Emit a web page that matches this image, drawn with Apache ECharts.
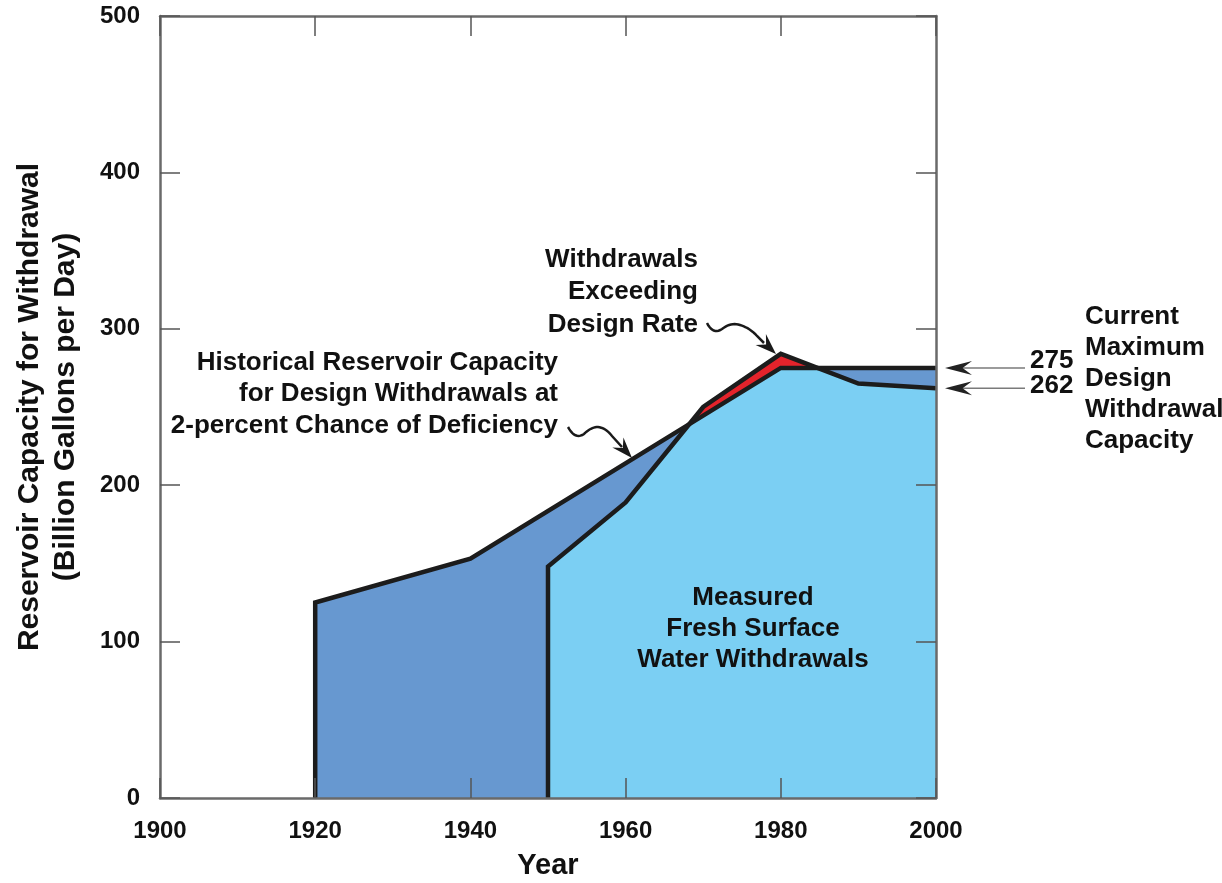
<!DOCTYPE html>
<html>
<head>
<meta charset="utf-8">
<script src="https://cdn.jsdelivr.net/npm/echarts@6/dist/echarts.min.js"></script>
<style>
  html, body { margin: 0; padding: 0; background: #ffffff; }
  #chart { width: 1222px; height: 883px; }
</style>
</head>
<body>
<div id="chart"></div>
<script>
// ---- Data ----
const xTickYears = [1900, 1920, 1940, 1960, 1980, 2000];
const yTickValues = [0, 100, 200, 300, 400, 500];

// Historical reservoir capacity for design withdrawals (2-percent chance of deficiency)
const capacityYears  = [1920, 1920, 1940, 1980, 2000];
const capacityValues = [0,    125,  153,  275,  275];

// Measured fresh surface water withdrawals
const withdrawalYears  = [1950, 1950, 1960, 1970, 1980, 1990, 2000];
const withdrawalValues = [0,    148,  189,  250,  284,  265,  262];

// Withdrawals exceeding design rate (region between the two curves)
const excessTopYears   = [1968.2, 1970, 1980, 1984.7];
const excessTopValues  = [239,    250,  284,  275];
const excessBaseYears  = [1980, 1970];
const excessBaseValues = [275,  244.5];

// Current maximum design withdrawal capacity labels
const currentLabels = [275, 262];

const FONT = '"Liberation Sans", Arial, Helvetica, sans-serif';
const DARK_BLUE = '#6798d0';
const LIGHT_BLUE = '#7bcff3';
const RED = '#e4232b';
const LINE = '#1c1c1c';
const AXIS = '#6a6a6a';

const pairs = (xs, ys) => xs.map((x, i) => [x, ys[i]]);

const chart = echarts.init(document.getElementById('chart'), null, { renderer: 'canvas' });

const tickCommon = {
  inside: true, length: 20,
  lineStyle: { color: '#555555', width: 1.5 }
};
const lineCommon = { show: true, onZero: false, lineStyle: { color: AXIS, width: 2.5 } };
const labelFmt = v => String(v);

const option = {
  animation: false,
  backgroundColor: '#ffffff',
  grid: { left: 160, right: 286, top: 16, bottom: 85, containLabel: false, outerBoundsMode: 'none' },
  xAxis: [
    {
      type: 'value', position: 'bottom',
      min: xTickYears[0], max: xTickYears[xTickYears.length - 1], interval: 20,
      axisLine: lineCommon, axisTick: tickCommon, splitLine: { show: false },
      axisLabel: { margin: 21, color: '#111', fontFamily: FONT, fontWeight: 'bold', fontSize: 24, formatter: labelFmt },
      name: 'Year', nameLocation: 'middle', nameGap: 53,
      nameTextStyle: { color: '#111', fontFamily: FONT, fontWeight: 'bold', fontSize: 29 },
      z: 10
    },
    {
      type: 'value', position: 'top',
      min: xTickYears[0], max: xTickYears[xTickYears.length - 1], interval: 20,
      axisLine: lineCommon, axisTick: tickCommon, splitLine: { show: false },
      axisLabel: { show: false }, z: 10
    }
  ],
  yAxis: [
    {
      type: 'value', position: 'left',
      min: yTickValues[0], max: yTickValues[yTickValues.length - 1], interval: 100,
      axisLine: lineCommon, axisTick: tickCommon, splitLine: { show: false },
      axisLabel: { margin: 20, color: '#111', fontFamily: FONT, fontWeight: 'bold', fontSize: 24, formatter: labelFmt },
      name: 'Reservoir Capacity for Withdrawal\n(Billion Gallons per Day)',
      nameLocation: 'middle', nameGap: 76, nameRotate: 90,
      nameTextStyle: { color: '#111', fontFamily: FONT, fontWeight: 'bold', fontSize: 30, lineHeight: 36 },
      z: 10
    },
    {
      type: 'value', position: 'right',
      min: yTickValues[0], max: yTickValues[yTickValues.length - 1], interval: 100,
      axisLine: lineCommon, axisTick: tickCommon, splitLine: { show: false },
      axisLabel: { show: false }, z: 10
    }
  ],
  series: [
    {
      name: 'Capacity area', type: 'line', z: 1,
      data: pairs(capacityYears, capacityValues),
      symbol: 'none', lineStyle: { width: 0 },
      areaStyle: { color: DARK_BLUE, opacity: 1 }
    },
    {
      name: 'Withdrawal area', type: 'line', z: 2,
      data: pairs(withdrawalYears, withdrawalValues),
      symbol: 'none', lineStyle: { width: 0 },
      areaStyle: { color: LIGHT_BLUE, opacity: 1 }
    },
    {
      name: 'Excess', type: 'custom', z: 3,
      data: [[0]],
      renderItem: function (params, api) {
        const pts = [];
        excessTopYears.forEach((x, i) => pts.push(api.coord([x, excessTopValues[i]])));
        excessBaseYears.forEach((x, i) => pts.push(api.coord([x, excessBaseValues[i]])));
        return { type: 'polygon', shape: { points: pts }, style: { fill: RED } };
      }
    },
    {
      name: 'Capacity line', type: 'line', z: 4,
      data: pairs(capacityYears, capacityValues),
      symbol: 'none',
      lineStyle: { width: 4.5, color: LINE, join: 'miter', cap: 'butt' }
    },
    {
      name: 'Withdrawal line', type: 'line', z: 5,
      data: pairs(withdrawalYears, withdrawalValues),
      symbol: 'none',
      lineStyle: { width: 4.5, color: LINE, join: 'miter', cap: 'butt' }
    }
  ]
};
chart.setOption(option);

// ---- Annotations ----
function arrowHead(tip, from, len, half, color) {
  const dx = tip[0] - from[0], dy = tip[1] - from[1];
  const d = Math.sqrt(dx * dx + dy * dy);
  const ux = dx / d, uy = dy / d;
  const nx = -uy, ny = ux;
  const bx = tip[0] - ux * len, by = tip[1] - uy * len;
  const notch = [tip[0] - ux * len * 0.65, tip[1] - uy * len * 0.65];
  return {
    type: 'polygon', z: 100,
    shape: { points: [tip, [bx + nx * half, by + ny * half], notch, [bx - nx * half, by - ny * half]] },
    style: { fill: color }
  };
}
function txt(text, x, y, align, lh, size) {
  return {
    type: 'text', x: x, y: y, z: 100,
    style: {
      text: text, fill: '#111', font: 'bold ' + (size || 26) + 'px ' + FONT,
      textAlign: align, textVerticalAlign: 'middle', lineHeight: lh || 31.5
    }
  };
}
// sample a chain of quadratic bezier segments: [start, [ctrl, end], [ctrl, end], ...]
function quadChain(start, segs) {
  const pts = [start];
  let p0 = start;
  segs.forEach(function (s) {
    const c = s[0], p1 = s[1];
    for (let t = 1; t <= 10; t++) {
      const u = t / 10, m = 1 - u;
      pts.push([m * m * p0[0] + 2 * m * u * c[0] + u * u * p1[0],
                m * m * p0[1] + 2 * m * u * c[1] + u * u * p1[1]]);
    }
    p0 = p1;
  });
  return pts;
}

const graphics = [];
graphics.push(txt('Historical Reservoir Capacity\nfor Design Withdrawals at\n2-percent Chance of Deficiency', 558, 394, 'right', 31.5));
graphics.push(txt('Withdrawals\nExceeding\nDesign Rate', 698, 292, 'right', 32.5));
graphics.push(txt('Measured\nFresh Surface\nWater Withdrawals', 753, 629, 'center', 31));
graphics.push(txt('Current\nMaximum\nDesign\nWithdrawal\nCapacity', 1085, 379, 'left', 31));

// squiggle arrows
const sq1 = quadChain([568, 427], [[[575, 440], [584, 434]], [[591, 427], [598, 427]], [[606, 428], [612, 436]]]);
sq1.push([622, 447]);
graphics.push({
  type: 'polyline', z: 100, shape: { points: sq1 },
  style: { stroke: '#1a1a1a', lineWidth: 2.5, fill: null }
});
graphics.push(arrowHead([632, 458], [612, 436], 21, 7.5, '#1a1a1a'));

const sq2 = quadChain([707, 323], [[[713, 335], [722, 329]], [[731, 322], [740, 325]], [[750, 328], [757, 336]]]);
sq2.push([764, 343]);
graphics.push({
  type: 'polyline', z: 100, shape: { points: sq2 },
  style: { stroke: '#1a1a1a', lineWidth: 2.5, fill: null }
});
graphics.push(arrowHead([776, 354], [757, 336], 21, 7.5, '#1a1a1a'));

// right side value arrows
const rightEdge = chart.convertToPixel({ xAxisIndex: 0 }, xTickYears[xTickYears.length - 1]);
currentLabels.forEach(function (v) {
  const y = chart.convertToPixel({ yAxisIndex: 0 }, v);
  graphics.push({
    type: 'line', z: 100,
    shape: { x1: rightEdge + 22, y1: y, x2: 1025, y2: y },
    style: { stroke: '#7a7a7a', lineWidth: 1.5 }
  });
  graphics.push(arrowHead([rightEdge + 9, y], [1025, y], 27, 7, '#222'));
});
const y275 = chart.convertToPixel({ yAxisIndex: 0 }, currentLabels[0]);
const y262 = chart.convertToPixel({ yAxisIndex: 0 }, currentLabels[1]);
graphics.push(txt(String(currentLabels[0]), 1030, y275 - 7, 'left', 25));
graphics.push(txt(String(currentLabels[1]), 1030, y262 - 2, 'left', 25));

chart.setOption({ graphic: graphics });
</script>
</body>
</html>
